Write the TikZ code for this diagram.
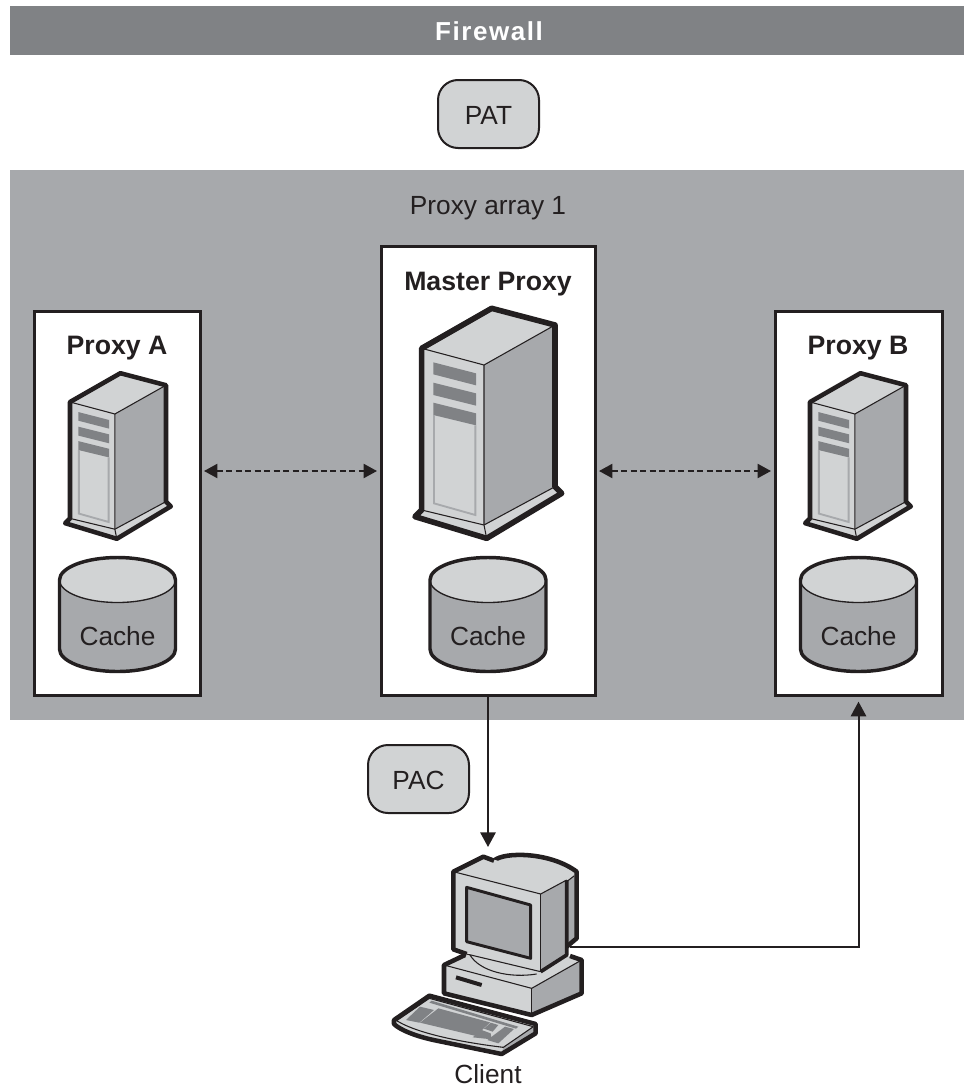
\documentclass[tikz,border=0pt]{standalone}
\usepackage{fontspec}
\setmainfont{Liberation Sans}
\usetikzlibrary{arrows.meta,calc}
\definecolor{inkc}{HTML}{231F20}
\definecolor{darkg}{HTML}{808285}
\definecolor{midg}{HTML}{A7A9AC}
\definecolor{lightg}{HTML}{D1D3D4}
\tikzset{
  every node/.style={text=inkc,font=\fontsize{19.7pt}{23pt}\selectfont,inner sep=0pt,outer sep=0pt},
  proxybox/.style={draw=inkc,fill=white,line width=2.25pt},
  tagbox/.style={draw=inkc,fill=lightg,line width=1.5pt,rounded corners=15pt,minimum width=75.75pt,minimum height=51pt},
  boldlabel/.style={font=\fontsize{20pt}{24pt}\selectfont\bfseries},
  link/.style={draw=inkc,line width=1.5pt,-{Triangle[length=11pt,width=11.5pt]}},
  dashlink/.style={draw=inkc,line width=1.5pt,dash pattern=on 4.5pt off 2.6pt,{Triangle[length=10pt,width=10.5pt]}-{Triangle[length=10pt,width=10.5pt]},shorten <=3pt,shorten >=3pt},
  thin line/.style={draw=inkc,line width=.8pt},
  keyfill/.style={fill=darkg,draw=none},
}
% server drawn in 1/3 px units; #1 shift, #2 unit, #3 outline width
\newcommand{\serverart}[3]{%
\begin{scope}[shift={#1},x=#2,y=-#2]
  \fill[midg] (312,375)--(525,255)--(525,740)--(312,855)--cycle;
  \fill[lightg] (125,325)--(335,205)--(525,255)--(312,375)--cycle;
  \fill[lightg] (125,325)--(312,375)--(312,855)--(125,810)--cycle;
  \fill[lightg] (125,810)--(312,855)--(525,740)--(545,760)--(320,895)--(105,830)--cycle;
  \fill[darkg] (160,367)--(288,400)--(288,436)--(160,403)--cycle;
  \fill[darkg] (160,428)--(288,460)--(288,497)--(160,465)--cycle;
  \fill[darkg] (160,488)--(288,520)--(288,556)--(160,525)--cycle;
  \draw[midg,line width=1.4pt] (162,525)--(162,790)--(286,825)--(286,556);
  \draw[thin line] (125,325)--(312,375)--(525,255);
  \draw[thin line] (312,375)--(312,855)--(320,895);
  \draw[thin line] (125,810)--(312,855)--(525,740);
  \draw[draw=inkc,line width=#3,line join=round] (125,325)--(335,205)--(525,255)--(525,740)--(545,760)--(320,895)--(105,830)--(125,810)--cycle;
\end{scope}}
% cylinder: #1 centre x
\newcommand{\cacheart}[1]{%
\begin{scope}[shift={(#1,0)}]
  \fill[midg] (-58,580) arc[x radius=58,y radius=22.5,start angle=180,end angle=0]
     -- (58,649) arc[x radius=58,y radius=22.5,start angle=0,end angle=180] -- cycle;
  \fill[lightg] (0,580) ellipse[x radius=58,y radius=22.5];
  \draw[draw=inkc,line width=1pt] (-58,580) arc[x radius=58,y radius=22.5,start angle=180,end angle=0];
  \draw[draw=inkc,line width=2.6pt,line join=round] (-58,580) arc[x radius=58,y radius=22.5,start angle=180,end angle=360]
     -- (58,649) arc[x radius=58,y radius=22.5,start angle=0,end angle=180] -- cycle;
\end{scope}}
\begin{document}
\begin{tikzpicture}[x=.75pt,y=-.75pt]
\useasboundingbox (0,0) rectangle (964,1089);
\node[fill=darkg,minimum width=715.5pt,minimum height=36.75pt,anchor=north west] (firewall) at (10,6) {};
\node[text=white,font=\fontsize{19.5pt}{23pt}\selectfont\bfseries\addfontfeature{LetterSpace=6}] (fwlabel) at (489,31) {Firewall};
\node[fill=midg,minimum width=715.5pt,minimum height=412.5pt,anchor=north west] (array) at (10,170) {};
\node[tagbox] (pat) at (488.5,114) {};
\node (patlabel) at (488.5,115) {PAT};
\node (arraylabel) at (488,208) {Proxy array 1};
\node[proxybox,minimum width=124.5pt,minimum height=288pt] (proxyA) at (117,503) {};
\node[proxybox,minimum width=160.5pt,minimum height=336.75pt] (master) at (488,470.5) {};
\node[proxybox,minimum width=125.25pt,minimum height=288pt] (proxyB) at (858.5,503) {};
\node[boldlabel] (labA) at (117,348) {Proxy A};
\node[boldlabel] (labM) at (488,284) {Master Proxy};
\node[boldlabel] (labB) at (858,348) {Proxy B};
\serverart{(380,240)}{.25pt}{4.2pt}
\serverart{(40,324)}{.18pt}{3.4pt}
\serverart{(780,324)}{.18pt}{3.4pt}
\cacheart{117.5}\cacheart{488}\cacheart{858.5}
\node (cacheA) at (117.5,636) {Cache};
\node (cacheM) at (488,636) {Cache};
\node (cacheB) at (858.5,636) {Cache};
\draw[dashlink] (proxyA.east|-0,471) -- (master.west|-0,471);
\draw[dashlink] (master.east|-0,471) -- (proxyB.west|-0,471);
\node[tagbox] (pac) at (418.5,779) {};
\node (paclabel) at (418.5,780) {PAC};
% client
\begin{scope}[shift={(370,830)},x=.25pt,y=-.25pt]
  % rear dome
  \fill[lightg] (372,92) .. controls (400,65) and (540,65) .. (620,125) -- (620,325) -- (590,350) -- (510,190) -- cycle;
  \fill[midg] (590,155)--(620,130)--(620,325)--(590,350)--cycle;
  \draw[thin line] (590,155)--(612,138);
  \draw[draw=inkc,line width=3.4pt,line join=round] (372,92) .. controls (400,65) and (540,65) .. (620,125) -- (620,325) -- (590,350);
  % base unit
  \fill[lightg] (222,405)--(285,372)--(600,378)--(635,390)--(485,475)--cycle;
  \fill[lightg] (222,405)--(485,475)--(485,555)--(222,490)--cycle;
  \fill[midg] (485,475)--(635,390)--(635,490)--(485,555)--cycle;
  \draw[thin line] (222,405)--(485,475)--(635,390);
  \draw[thin line] (485,475)--(485,555);
  \draw[draw=inkc,line width=3.4pt,line join=round] (285,375)--(222,405)--(222,490)--(485,555)--(635,490)--(635,390)--(600,378);
  \draw[thin line] (300,375) .. controls (330,425) and (420,445) .. (500,432);
  \draw[draw=inkc,line width=3pt] (258,442)--(335,465);
  % monitor
  \fill[lightg] (250,125)--(340,80)--(590,150)--(512,192)--cycle;
  \fill[midg] (512,192)--(590,150)--(590,375)--(512,425)--cycle;
  \fill[lightg] (250,125)--(512,192)--(512,425)--(250,358)--cycle;
  \draw[thin line] (250,125)--(512,192)--(590,150);
  \draw[thin line] (512,192)--(512,425);
  \fill[midg] (290,172)--(482,225)--(482,385)--(290,335)--cycle;
  \draw[draw=inkc,line width=2.2pt,line join=round] (290,172)--(482,225)--(482,385)--(290,335)--cycle;
  \draw[draw=inkc,line width=3.4pt,line join=round] (372,92)--(340,80)--(250,125)--(250,358)--(290,372);
  \draw[draw=inkc,line width=.8pt] (290,372)--(512,425);
  \draw[draw=inkc,line width=2.8pt,line join=round] (590,150)--(590,375)--(512,425);
  % keyboard
  \fill[lightg] (72,570)--(178,497)--(497,582)--(497,610)--(395,672)--(200,632) .. controls (140,620) and (90,600) .. (72,582) -- cycle;
  \fill[midg] (400,652)--(490,590)--(497,610)--(395,672)--cycle;
  \draw[thin line] (80,572) .. controls (150,615) and (300,640) .. (400,652)--(490,590);
  \draw[thin line] (80,572)--(178,505)--(490,590);
  \fill[keyfill] (108,570)--(150,530)--(192,540)--(148,578)--cycle;
  \fill[keyfill] (150,578)--(205,535)--(360,577)--(318,618)--cycle;
  \fill[keyfill] (178,518)--(185,512)--(445,590)--(438,596)--cycle;
  \fill[keyfill] (308,622)--(335,600)--(362,610)--(365,628)--cycle;
  \fill[keyfill] (342,596)--(362,578)--(385,585)--(368,605)--cycle;
  \fill[keyfill] (352,630)--(405,590)--(432,597)--(385,640)--cycle;
  \draw[draw=inkc,line width=3.4pt,line join=round] (178,497)--(497,582)--(497,610)--(395,672)--(200,632) .. controls (140,620) and (90,600) .. (72,582) -- (72,570) -- cycle;
\end{scope}
\coordinate (clientT) at (488,847);
\coordinate (clientR) at (570,947);
\node (clientlabel) at (488,1074) {Client};
\draw[link] (master.south) -- (clientT);
\draw[link,shorten >=5pt] (clientR) -| (proxyB.south);
\end{tikzpicture}
\end{document}
